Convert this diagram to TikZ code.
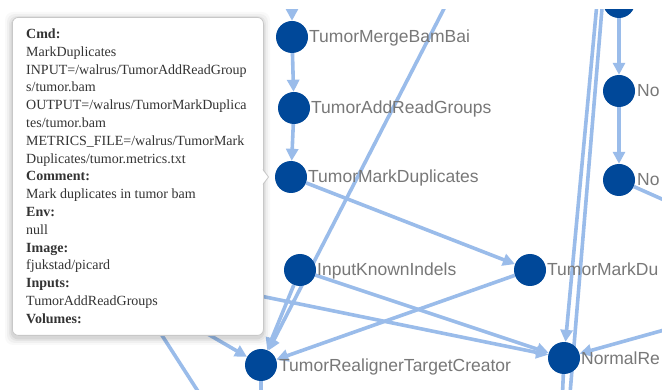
\documentclass[tikz,border=0pt]{standalone}
\usepackage{fontspec}
\setmainfont{Liberation Serif}
\newfontfamily\lblfont{Liberation Sans}
\usetikzlibrary{arrows.meta}
\definecolor{edgec}{RGB}{154,188,234}
\definecolor{nodec}{RGB}{0,72,153}
\definecolor{lblc}{RGB}{120,120,120}
\definecolor{tipc}{RGB}{51,51,51}
\definecolor{tipborder}{RGB}{200,200,200}
\pgfdeclarelayer{edgelayer}
\pgfsetlayers{edgelayer,main}
\begin{document}
\begin{tikzpicture}[x=1pt,y=-1pt,
  vert/.style={circle,fill=nodec,minimum size=32pt,inner sep=0pt,draw=none},
  lbl/.style={anchor=base west,inner sep=0pt,text=lblc,font=\lblfont\fontsize{17.5}{20}\selectfont},
  edge/.style={draw=edgec,line width=3.6pt},
  arr/.style={edge,-{Triangle[length=12pt,width=12pt]}},
  tipline/.style={anchor=base west,inner sep=0pt,text=tipc,font=\fontsize{14}{17}\selectfont},
  tipbox/.style={draw=tipborder,fill=white,line width=0.8pt,rounded corners=6pt,minimum width=251pt,minimum height=318pt,inner sep=0pt,anchor=north west},
]
\useasboundingbox (0,0) rectangle (662,390);

\begin{scope}
\clip (0,10) rectangle (662,390);
% nodes
\node[vert] (top) at (619,2) {};
\node[vert] (tmbb) at (292,37) {};
\node[vert] (targ) at (294,108) {};
\node[vert] (tmd) at (291,177) {};
\node[vert] (ikn) at (300,270) {};
\node[vert] (tmd2) at (530,270) {};
\node[vert] (trtc) at (261,365) {};
\node[vert] (nre) at (564,358) {};
\node[vert] (no1) at (619,91) {};
\node[vert] (no2) at (619,180) {};
% labels
\node[lbl] (ltmbb) at (309,43) {TumorMergeBamBai};
\node[lbl] (ltarg) at (311,114) {TumorAddReadGroups};
\node[lbl] (ltmd) at (308,183) {TumorMarkDuplicates};
\node[lbl] (likn) at (317,276) {InputKnownIndels};
\node[lbl] (ltmd2) at (547,276) {TumorMarkDu};
\node[lbl] (ltrtc) at (279,371) {TumorRealignerTargetCreator};
\node[lbl] (lnre) at (581,364) {NormalRe};
\node[lbl] (lno1) at (637,97) {No};
\node[lbl] (lno2) at (637,186) {No};
\end{scope}

% off-screen ends
\coordinate (a0) at (292,-40);
\coordinate (b0) at (469,-40);
\coordinate (c0) at (601,-40);
\coordinate (d0) at (606,-40);
\coordinate (d1) at (567,430);
\coordinate (e1) at (561,430);
\coordinate (f1) at (700,216);
\coordinate (g0) at (700,320);
\coordinate (h0) at (40,251);
\coordinate (i0) at (120,283);
\coordinate (j0) at (100,239);
\coordinate (j1) at (210,410);
\coordinate (k1) at (261,430);

\begin{pgfonlayer}{edgelayer}
\fill[white] (0,0) rectangle (662,390);
\begin{scope}
\clip (0,10) rectangle (662,390);
\draw[arr] (a0) -- (tmbb);
\draw[arr] (tmbb) -- (targ);
\draw[arr] (targ) -- (tmd);
\draw[arr] (tmd) -- (tmd2);
\draw[arr] (b0) -- (trtc);
\draw[arr] (c0) -- (nre);
\draw[edge] (d0) -- (d1);
\draw[edge] (nre) -- (e1);
\draw[arr] (top) -- (no1);
\draw[arr] (no1) -- (no2);
\draw[edge] (no2) -- (f1);
\draw[arr] (g0) -- (nre);
\draw[arr] (tmd2) -- (trtc);
\draw[arr] (ikn) -- (trtc);
\draw[arr] (ikn) -- (nre);
\draw[arr] (h0) -- (nre);
\draw[arr] (i0) -- (trtc);
\draw[edge] (j0) -- (j1);
\draw[edge] (trtc) -- (k1);
\end{scope}
\end{pgfonlayer}

% tooltip shadow
\foreach \s/\o in {7/0.025,5/0.035,3/0.045,1.5/0.06}
  \fill[black,opacity=\o,rounded corners=8pt] ({12-\s},{19-\s}) rectangle ({263+\s},{338+\s});
\node[tipbox] (tooltip) at (12,17) {};
\fill[white] (262,169.5) -- (268.5,177) -- (262,184.5) -- cycle;
\draw[tipborder,line width=0.8pt,line join=miter] (263,169.5) -- (268.5,177) -- (263,184.5);

\node[tipline] (t0) at (26,38.5) {\textbf{Cmd:}};
\node[tipline] (t1) at (26,56.3) {MarkDuplicates};
\node[tipline] (t2) at (26,74.1) {INPUT=/walrus/TumorAddReadGroup};
\node[tipline] (t3) at (26,91.9) {s/tumor.bam};
\node[tipline] (t4) at (26,109.7) {OUTPUT=/walrus/TumorMarkDuplica};
\node[tipline] (t5) at (26,127.5) {tes/tumor.bam};
\node[tipline] (t6) at (26,145.3) {METRICS\_FILE=/walrus/TumorMark};
\node[tipline] (t7) at (26,163.1) {Duplicates/tumor.metrics.txt};
\node[tipline] (t8) at (26,180.9) {\textbf{Comment:}};
\node[tipline] (t9) at (26,198.7) {Mark duplicates in tumor bam};
\node[tipline] (t10) at (26,216.5) {\textbf{Env:}};
\node[tipline] (t11) at (26,234.3) {null};
\node[tipline] (t12) at (26,252.1) {\textbf{Image:}};
\node[tipline] (t13) at (26,269.9) {fjukstad/picard};
\node[tipline] (t14) at (26,287.7) {\textbf{Inputs:}};
\node[tipline] (t15) at (26,305.5) {TumorAddReadGroups};
\node[tipline] (t16) at (26,323.3) {\textbf{Volumes:}};
\end{tikzpicture}
\end{document}
